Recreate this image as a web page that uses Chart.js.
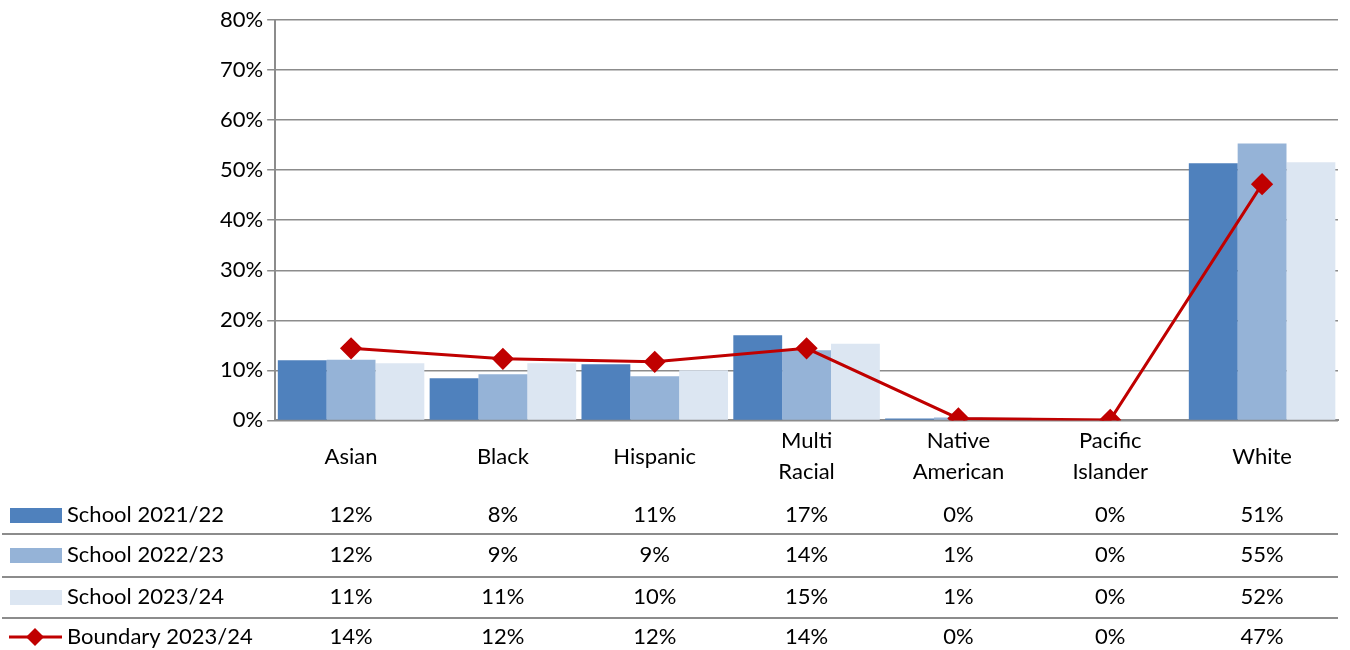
<!DOCTYPE html>
<html>
<head>
<meta charset="utf-8">
<script src="https://cdn.jsdelivr.net/npm/chart.js@4.4.1/dist/chart.umd.min.js"></script>
<style>
  html, body { margin: 0; padding: 0; background: #fff; }
  #wrap { width: 1350px; height: 650px; position: relative; }
</style>
</head>
<body>
<div id="wrap"><canvas id="bar-chart"></canvas></div>
<script>
// categories
var groups = [["Asian"], ["Black"], ["Hispanic"], ["Multi", "Racial"], ["Native", "American"], ["Pacific", "Islander"], ["White"]];

// series (percent)
var school2122 = [12.0, 8.4, 11.2, 17.0, 0.4, 0.0, 51.4];
var school2223 = [12.1, 9.2, 8.8, 14.0, 0.6, 0.0, 55.3];
var school2324 = [11.4, 11.4, 10.0, 15.3, 0.6, 0.0, 51.6];
var boundary2324 = [14.4, 12.3, 11.7, 14.4, 0.4, 0.1, 47.2];

// table text, as printed in the reference
var tbl2122 = ["12%", "8%", "11%", "17%", "0%", "0%", "51%"];
var tbl2223 = ["12%", "9%", "9%", "14%", "1%", "0%", "55%"];
var tbl2324 = ["11%", "11%", "10%", "15%", "1%", "0%", "52%"];
var tblBoundary = ["14%", "12%", "12%", "14%", "0%", "0%", "47%"];

var yTicks = [0, 10, 20, 30, 40, 50, 60, 70, 80];

var FONT = "Lato, 'Liberation Sans', sans-serif";

// data table under the x axis
var dataTable = {
    id: 'dataTable',
    afterDraw: function(chart) {
        var ctx = chart.ctx;
        var x = chart.scales.x;
        var area = chart.chartArea;
        var rows = [
            { vals: tbl2122, ds: 1 },
            { vals: tbl2223, ds: 2 },
            { vals: tbl2324, ds: 3 },
            { vals: tblBoundary, ds: 0 }
        ];
        var rowY = [515, 555, 597, 637];
        var lineY = [534, 577, 618];
        ctx.save();
        ctx.strokeStyle = '#8c8c8c';
        ctx.lineWidth = 2;
        lineY.forEach(function(y) {
            ctx.beginPath();
            ctx.moveTo(2, y);
            ctx.lineTo(area.right, y);
            ctx.stroke();
        });
        ctx.font = "22px " + FONT;
        ctx.textBaseline = 'middle';
        rows.forEach(function(r, i) {
            var y = rowY[i];
            var ds = chart.data.datasets[r.ds];
            if (ds.type === 'line') {
                ctx.strokeStyle = ds.borderColor;
                ctx.lineWidth = 3;
                ctx.beginPath();
                ctx.moveTo(9, y);
                ctx.lineTo(62, y);
                ctx.stroke();
                ctx.fillStyle = ds.borderColor;
                ctx.beginPath();
                ctx.moveTo(35, y - 9);
                ctx.lineTo(44, y);
                ctx.lineTo(35, y + 9);
                ctx.lineTo(26, y);
                ctx.closePath();
                ctx.fill();
            } else {
                ctx.fillStyle = ds.backgroundColor;
                ctx.fillRect(10, y - 7, 52, 15);
            }
            ctx.fillStyle = '#000';
            ctx.textAlign = 'left';
            ctx.fillText(ds.label, 67, y);
            ctx.textAlign = 'center';
            for (var k = 0; k < r.vals.length; k++) {
                ctx.fillText(r.vals[k], x.getPixelForValue(k), y);
            }
        });
        ctx.restore();
    }
};

new Chart(document.getElementById("bar-chart"), {
    type: 'bar',
    data: {
        labels: groups,
        datasets: [
            {
                type: 'line',
                label: "Boundary 2023/24",
                data: boundary2324,
                borderColor: "#C00000",
                backgroundColor: "#C00000",
                borderWidth: 3,
                pointStyle: 'rectRot',
                pointRadius: 9,
                pointHoverRadius: 9,
                fill: false,
                tension: 0,
                order: 0
            },
            { label: "School 2021/22", data: school2122, backgroundColor: "#4F81BD", order: 1 },
            { label: "School 2022/23", data: school2223, backgroundColor: "#95B3D7", order: 1 },
            { label: "School 2023/24", data: school2324, backgroundColor: "#DCE6F2", order: 1 }
        ]
    },
    options: {
        responsive: true,
        maintainAspectRatio: false,
        animation: false,
        events: [],
        layout: { padding: { top: 20, right: 10, bottom: 126, left: 216 } },
        plugins: {
            legend: { display: false },
            tooltip: { enabled: false },
            title: { display: false }
        },
        datasets: {
            bar: { categoryPercentage: 0.965, barPercentage: 1.0 }
        },
        scales: {
            x: {
                grid: { display: false, drawTicks: false },
                border: { display: true, color: '#8c8c8c', width: 2 },
                ticks: {
                    color: '#000',
                    font: { family: FONT, size: 22, lineHeight: 1.4 },
                    padding: 21,
                    crossAlign: 'center',
                    maxRotation: 0,
                    autoSkip: false
                }
            },
            y: {
                min: 0,
                max: 80,
                afterBuildTicks: function(axis) {
                    axis.ticks = yTicks.map(function(v) { return { value: v }; });
                },
                grid: { color: '#8c8c8c', lineWidth: 1.5, tickLength: 8 },
                border: { display: true, color: '#8c8c8c', width: 2 },
                ticks: {
                    color: '#000',
                    font: { family: FONT, size: 22 },
                    padding: 4,
                    callback: function(v) { return v + '%'; }
                }
            }
        }
    },
    plugins: [dataTable]
});
</script>
</body>
</html>
